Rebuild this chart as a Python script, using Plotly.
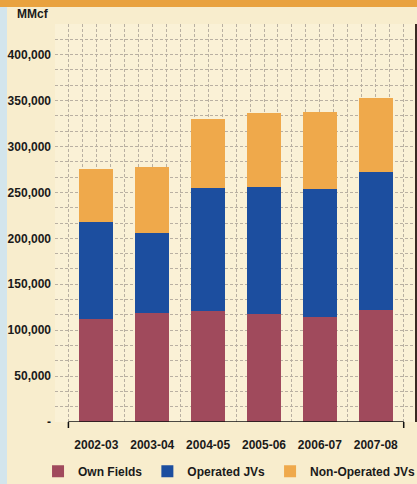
import plotly.graph_objects as go

categories = ["2002-03", "2003-04", "2004-05", "2005-06", "2006-07", "2007-08"]
own_fields = [112500, 118400, 120600, 117600, 114700, 122000]
operated_jvs = [105000, 87700, 133900, 138000, 139400, 150600]
non_operated_jvs = [57700, 71900, 75100, 80600, 83200, 79900]
y_tick_vals = [0, 50000, 100000, 150000, 200000, 250000, 300000, 350000, 400000]
y_tick_text = ["-", "50,000", "100,000", "150,000", "200,000", "250,000", "300,000", "350,000", "400,000"]

FONT = "Liberation Sans"
xs = list(range(len(categories)))

fig = go.Figure()
for name, vals, col in [("Own Fields", own_fields, "#A04A5C"),
                        ("Operated JVs", operated_jvs, "#1C4E9F"),
                        ("Non-Operated JVs", non_operated_jvs, "#EFA94B")]:
    fig.add_trace(go.Bar(x=xs, y=vals, name=name, marker=dict(color=col, line=dict(width=0)),
                         hoverinfo="skip"))

grid_col = "#B9B0A2"
W, H = 417, 484
L, R, T, B = 55, 1, 24, 62
pw, ph = W - L - R, H - T - B

fig.update_layout(
    width=W, height=H, barmode="stack", bargap=0.395,
    margin=dict(l=L, r=R, t=T, b=B, pad=0, autoexpand=False),
    paper_bgcolor="#F8EDCD", plot_bgcolor="#FAF1D6",
    font=dict(family=FONT, size=12, color="#1A1A1A"),
    showlegend=True,
    legend=dict(orientation="h", x=-0.047, xanchor="left", y=-0.124, yanchor="middle",
                font=dict(family=FONT, size=12, color="#1A1A1A", weight="bold"),
                bgcolor="rgba(0,0,0,0)", itemwidth=30, traceorder="normal",
                tracegroupgap=0),
    xaxis=dict(range=[-0.74, 5.72], tickvals=xs, ticktext=categories, automargin=False,
               showgrid=True, gridcolor=grid_col, griddash="3px,2px", gridwidth=1,
               minor=dict(dtick=0.25, tick0=0, showgrid=True, gridcolor=grid_col,
                          griddash="3px,2px", gridwidth=1),
               ticks="", showline=False, zeroline=False,
               tickfont=dict(family=FONT, size=12, color="#1A1A1A", weight="bold"),
               ticklabelstandoff=14),
    yaxis=dict(range=[0, 433333], tickvals=y_tick_vals, ticktext=y_tick_text, automargin=False,
               showgrid=True, gridcolor=grid_col, griddash="3px,2px", gridwidth=1,
               minor=dict(dtick=50000 / 3, tick0=0, showgrid=True, gridcolor=grid_col,
                          griddash="3px,2px", gridwidth=1),
               ticks="", showline=False, zeroline=False,
               tickfont=dict(family=FONT, size=12, color="#1A1A1A", weight="bold"),
               ticklabelstandoff=3),
)

# decorations: top orange band, left blue strip, right dark border, x-axis bracket
fig.add_shape(type="rect", xref="paper", yref="paper", x0=-L / pw, x1=1 + R / pw,
              y0=1 + (T - 7) / ph, y1=1 + T / ph, fillcolor="#E9A23F", line_width=0, layer="below")
fig.add_shape(type="rect", xref="paper", yref="paper", x0=-L / pw, x1=-(L - 7) / pw,
              y0=-B / ph, y1=1 + (T - 7) / ph, fillcolor="#D3E5EC", line_width=0, layer="below")
fig.add_shape(type="line", xref="paper", yref="paper", x0=1, x1=1, y0=0, y1=1,
              line=dict(color="#3A2A22", width=2))
fig.add_shape(type="line", xref="x", yref="y", x0=-0.5, x1=5.5, y0=0, y1=0,
              line=dict(color="#111111", width=1.5))
for xe in (-0.5, 5.5):
    fig.add_shape(type="line", xref="x", yref="paper", x0=xe, x1=xe, y0=0, y1=-6 / ph,
                  line=dict(color="#111111", width=1.5))

fig.add_annotation(text="MMcf", xref="paper", yref="paper", x=-40 / pw, y=1 + (422 - 14 - ph) / ph,
                   xanchor="left", yanchor="middle", showarrow=False,
                   font=dict(family=FONT, size=12, color="#1A1A1A", weight="bold"))

fig.write_html("out.html", config={"displayModeBar": False},
               post_script="document.body.style.margin='0';document.body.style.padding='0';")
